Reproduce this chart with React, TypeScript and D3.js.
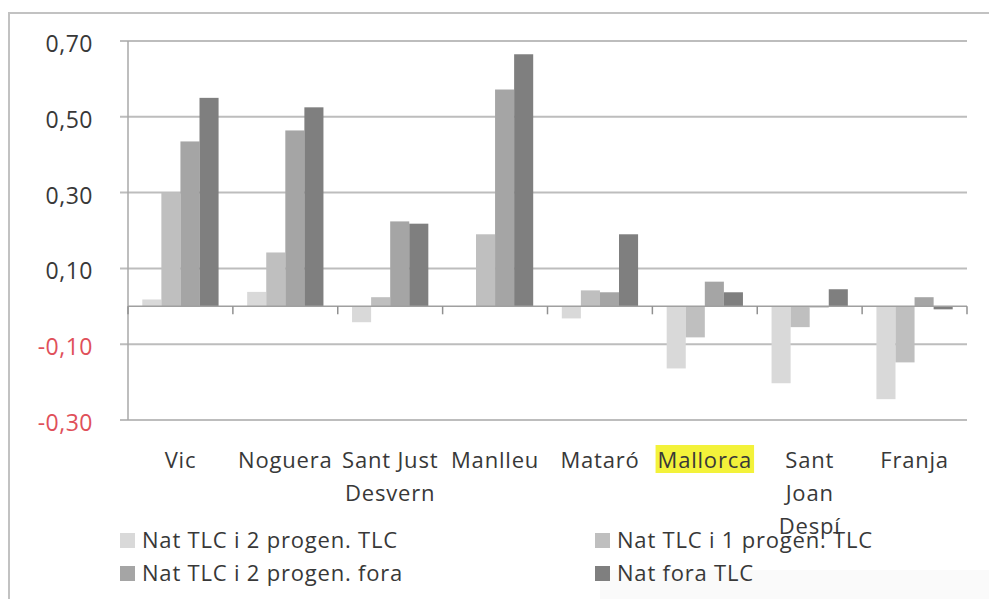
import React, { useEffect, useRef } from "react";
import * as d3 from "d3";

const categories = ["Vic", "Noguera", "Sant Just Desvern", "Manlleu", "Mataró", "Mallorca", "Sant Joan Despí", "Franja"];
const categoryLines = [["Vic"], ["Noguera"], ["Sant Just", "Desvern"], ["Manlleu"], ["Mataró"], ["Mallorca"], ["Sant", "Joan", "Despí"], ["Franja"]];
const highlighted = ["Mallorca"];
const seriesNames = ["Nat TLC i 2 progen. TLC", "Nat TLC i 1 progen. TLC", "Nat TLC i 2 progen. fora", "Nat fora TLC"];
const s1 = [0.018, 0.038, -0.042, -0.002, -0.032, -0.164, -0.203, -0.245];
const s2 = [0.3, 0.142, 0.024, 0.19, 0.042, -0.082, -0.055, -0.148];
const s3 = [0.435, 0.464, 0.224, 0.572, 0.037, 0.065, -0.003, 0.024];
const s4 = [0.55, 0.525, 0.218, 0.665, 0.19, 0.037, 0.045, -0.008];
const yTicks = [0.7, 0.5, 0.3, 0.1, -0.1, -0.3];
const colors = ["#d9d9d9", "#bfbfbf", "#a5a5a5", "#7f7f7f"];

const FONT = "'Open Sans', 'DejaVu Sans', sans-serif";

export default function App() {
  const ref = useRef<SVGSVGElement | null>(null);

  useEffect(() => {
    const svg = d3.select(ref.current);
    svg.selectAll("*").remove();
    const W = 989, H = 599;
    const left = 128, right = 967, top = 41, bottom = 420;
    const series = [s1, s2, s3, s4];

    svg.append("rect").attr("width", W).attr("height", H).attr("fill", "#ffffff");
    svg.append("rect").attr("x", 600).attr("y", 570).attr("width", W - 600).attr("height", H - 570).attr("fill", "#fafafa");
    // outer border
    svg.append("path").attr("d", `M9,${H + 5} L9,13 L${W + 5},13`).attr("fill", "none").attr("stroke", "#c2c2c2").attr("stroke-width", 2);

    const y = d3.scaleLinear().domain([-0.3, 0.7]).range([bottom, top]);
    const x = d3.scaleBand<string>().domain(categories).range([left, right]).paddingInner(0).paddingOuter(0);
    const bw = x.bandwidth();
    const barW = bw / 5.5;
    const xs = d3.scaleBand<number>().domain([0, 1, 2, 3]).range([barW * 0.75, bw - barW * 0.75]).padding(0);

    // gridlines
    svg.append("g").selectAll("line").data(yTicks).join("line")
      .attr("x1", left - 8).attr("x2", right)
      .attr("y1", (d) => y(d)).attr("y2", (d) => y(d))
      .attr("stroke", "#bdbdbd").attr("stroke-width", 2);

    // y axis line
    svg.append("line").attr("x1", left).attr("x2", left).attr("y1", top).attr("y2", bottom)
      .attr("stroke", "#a8a8a8").attr("stroke-width", 1.5);

    // y labels
    svg.append("g").selectAll("text").data(yTicks).join("text")
      .attr("x", 93).attr("y", (d) => y(d) + 11)
      .attr("text-anchor", "end")
      .attr("font-family", FONT).attr("font-size", 23).attr("letter-spacing", 0.5)
      .attr("fill", (d) => (d < 0 ? "#e0505a" : "#383838"))
      .text((d) => d3.format(".2f")(d).replace(".", ",").replace("\u2212", "-"));

    // bars
    series.forEach((vals, si) => {
      svg.append("g").selectAll("rect").data(vals).join("rect")
        .attr("x", (_, i) => (x(categories[i]) as number) + (xs(si) as number))
        .attr("width", xs.bandwidth())
        .attr("y", (d) => Math.min(y(d), y(0)))
        .attr("height", (d) => Math.abs(y(d) - y(0)))
        .attr("fill", colors[si]);
    });

    // zero axis
    svg.append("line").attr("x1", left).attr("x2", right).attr("y1", y(0)).attr("y2", y(0))
      .attr("stroke", "#a0a0a0").attr("stroke-width", 1.5);
    const bounds = categories.map((c) => x(c) as number).concat([right]);
    svg.append("g").selectAll("line").data(bounds).join("line")
      .attr("x1", (d) => d).attr("x2", (d) => d)
      .attr("y1", y(0)).attr("y2", y(0) + 8)
      .attr("stroke", "#909090").attr("stroke-width", 1.5);

    // category labels
    categories.forEach((c, i) => {
      const cx = (x(c) as number) + bw / 2;
      const g = svg.append("g");
      const lines = categoryLines[i];
      const texts = lines.map((ln, li) =>
        g.append("text").attr("x", cx).attr("y", 468 + li * 33)
          .attr("text-anchor", "middle")
          .attr("font-family", FONT).attr("font-size", 22).attr("letter-spacing", 0.8)
          .attr("fill", "#383838").text(ln)
      );
      if (highlighted.includes(c)) {
        const bb = (texts[0].node() as SVGTextElement).getBBox();
        g.insert("rect", "text").attr("x", bb.x - 2).attr("y", 445).attr("width", bb.width + 4).attr("height", 28)
          .attr("fill", "#f3f23a");
      }
    });

    // legend
    const legendPos = [
      { x: 120, y: 548 },
      { x: 595, y: 548 },
      { x: 120, y: 581 },
      { x: 595, y: 581 },
    ];
    seriesNames.forEach((n, i) => {
      const p = legendPos[i];
      svg.append("rect").attr("x", p.x).attr("y", p.y - 15).attr("width", 15).attr("height", 15).attr("fill", colors[i]);
      svg.append("text").attr("x", p.x + 22).attr("y", p.y)
        .attr("font-family", FONT).attr("font-size", 22).attr("letter-spacing", 0.8)
        .attr("fill", "#383838").text(n);
    });
  }, []);

  return (
    <svg ref={ref} width={989} height={599} style={{ position: "absolute", left: 0, top: 0, display: "block" }} />
  );
}
